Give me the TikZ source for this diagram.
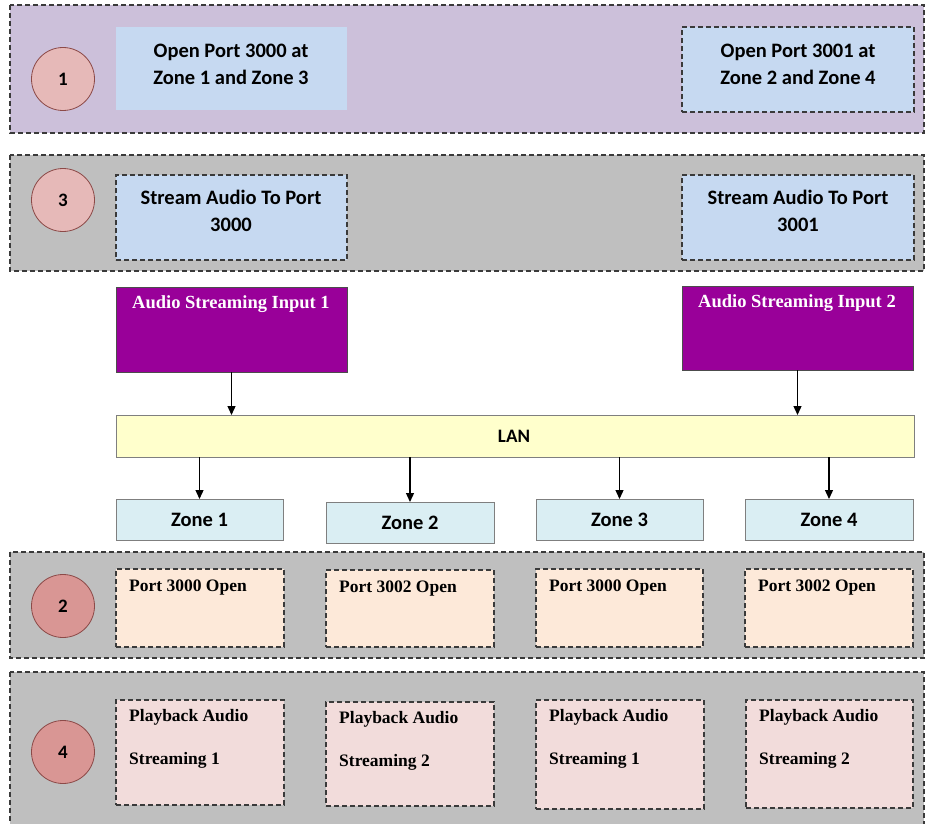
\documentclass[tikz,border=0pt]{standalone}
\usepackage{fontspec}
\setmainfont{Liberation Serif}
\newfontfamily\calfont{Carlito}
\usetikzlibrary{arrows.meta}
\definecolor{lavband}{HTML}{CCC0DA}
\definecolor{grayband}{HTML}{BFBFBF}
\definecolor{dashgray}{HTML}{3A3A3A}
\definecolor{circA}{HTML}{E6B9B8}
\definecolor{circB}{HTML}{D99694}
\definecolor{circline}{HTML}{8C4A48}
\definecolor{openblue}{HTML}{C6D9F1}
\definecolor{inpurple}{HTML}{990099}
\definecolor{lanyellow}{HTML}{FFFFCC}
\definecolor{zonecyan}{HTML}{DAEEF3}
\definecolor{portpeach}{HTML}{FDE9D9}
\definecolor{playpink}{HTML}{F2DCDB}
\definecolor{boxline}{HTML}{7F7F7F}
\begin{document}
\begin{tikzpicture}[x=1pt,y=-1pt,
  band/.style={draw=dashgray, line width=1.3pt, dash pattern=on 5pt off 3pt},
  dbox/.style={draw=dashgray, line width=1.3pt, dash pattern=on 5pt off 3pt, inner sep=0pt, outer sep=0pt, anchor=north west},
  sbox/.style={draw=boxline, line width=0.9pt, inner sep=0pt, outer sep=0pt, anchor=north west},
  numc/.style={circle, draw=circline, line width=0.8pt, minimum size=63pt, inner sep=0pt, font=\calfont\bfseries\fontsize{19}{21}\selectfont},
  calt/.style={font=\calfont\bfseries\fontsize{20.5}{27}\selectfont, align=center, inner sep=0pt},
  sert/.style={font=\bfseries\fontsize{17.5}{21}\selectfont, inner sep=0pt, anchor=west},
  playt/.style={font=\bfseries\fontsize{17.5}{43}\selectfont, inner sep=0pt, align=left, anchor=north west},
  arr/.style={line width=1.3pt, -{Triangle[length=9pt,width=8pt]}}
]
\path[use as bounding box, clip] (0,0) rectangle (926,824);
\fill[white] (0,0) rectangle (926,824);

% ---------- band 1 ----------
\filldraw[band, fill=lavband] (10,5) rectangle (924,133);
\node[numc, fill=circA] (c1) at (63,79) {1};
\node[sbox, draw=none, fill=openblue, minimum width=231pt, minimum height=83pt] (op1) at (116,27) {};
\node[calt] (op1t) at (231,64) {Open Port 3000 at\\Zone 1 and Zone 3};
\node[dbox, fill=openblue, minimum width=232pt, minimum height=85pt] (op2) at (682,27) {};
\node[calt] (op2t) at (798,64) {Open Port 3001 at\\Zone 2 and Zone 4};

% ---------- band 3 ----------
\filldraw[band, fill=grayband] (10,155) rectangle (924,271);
\node[numc, fill=circA] (c3) at (63,200) {3};
\node[dbox, fill=openblue, minimum width=231pt, minimum height=85pt] (st1) at (116,175) {};
\node[calt] (st1t) at (231,211) {Stream Audio To Port\\3000};
\node[dbox, fill=openblue, minimum width=232pt, minimum height=85pt] (st2) at (682,175) {};
\node[calt] (st2t) at (798,211) {Stream Audio To Port\\3001};

% ---------- inputs ----------
\node[sbox, draw=black!70, fill=inpurple, minimum width=231pt, minimum height=85pt] (in1) at (116,287) {};
\node[font=\bfseries\fontsize{18.5}{21}\selectfont, text=white, inner sep=0pt] (in1t) at (231,304) {Audio Streaming Input 1};
\node[sbox, draw=black!70, fill=inpurple, minimum width=231pt, minimum height=84pt] (in2) at (682,286) {};
\node[font=\bfseries\fontsize{18.5}{21}\selectfont, text=white, inner sep=0pt] (in2t) at (797,303) {Audio Streaming Input 2};

% ---------- LAN ----------
\node[sbox, fill=lanyellow, minimum width=798pt, minimum height=42pt] (lan) at (116,415) {};
\node[calt, font=\calfont\bfseries\fontsize{19}{22}\selectfont] (lant) at (514,436) {LAN};

% ---------- zones ----------
\node[sbox, fill=zonecyan, minimum width=167pt, minimum height=41pt] (z1) at (116,499) {};
\node[sbox, fill=zonecyan, minimum width=168pt, minimum height=41pt] (z2) at (326,502) {};
\node[sbox, fill=zonecyan, minimum width=167pt, minimum height=41pt] (z3) at (536,499) {};
\node[sbox, fill=zonecyan, minimum width=168pt, minimum height=41pt] (z4) at (745,499) {};
\node[calt] (z1t) at (z1.center) {Zone 1};
\node[calt] (z2t) at (z2.center) {Zone 2};
\node[calt] (z3t) at (z3.center) {Zone 3};
\node[calt] (z4t) at (z4.center) {Zone 4};

% ---------- arrows ----------
\draw[arr] (in1.south) -- (in1.south |- lan.north);
\draw[arr] (in2.south) -- (in2.south |- lan.north);
\draw[arr] (lan.south -| z1.north) -- (z1.north);
\draw[arr] (lan.south -| z2.north) -- (z2.north);
\draw[arr] (lan.south -| z3.north) -- (z3.north);
\draw[arr] (lan.south -| z4.north) -- (z4.north);

% ---------- band 2 ----------
\filldraw[band, fill=grayband] (10,552) rectangle (924,658);
\node[numc, fill=circB] (c2) at (63,606) {2};
\node[dbox, fill=portpeach, minimum width=168pt, minimum height=78pt] (p1) at (116,569) {};
\node[dbox, fill=portpeach, minimum width=168pt, minimum height=77pt] (p2) at (326,570) {};
\node[dbox, fill=portpeach, minimum width=167pt, minimum height=78pt] (p3) at (536,569) {};
\node[dbox, fill=portpeach, minimum width=168pt, minimum height=78pt] (p4) at (745,569) {};
\node[sert] (p1t) at (129,588) {Port 3000 Open};
\node[sert] (p2t) at (339,589) {Port 3002 Open};
\node[sert] (p3t) at (549,588) {Port 3000 Open};
\node[sert] (p4t) at (758,588) {Port 3002 Open};

% ---------- band 4 ----------
\filldraw[band, fill=grayband] (10,672) rectangle (924,840);
\node[numc, fill=circB] (c4) at (63,752) {4};
\node[dbox, fill=playpink, minimum width=168pt, minimum height=105pt] (b1) at (116,700) {};
\node[dbox, fill=playpink, minimum width=168pt, minimum height=104pt] (b2) at (326,702) {};
\node[dbox, fill=playpink, minimum width=168pt, minimum height=109pt] (b3) at (536,700) {};
\node[dbox, fill=playpink, minimum width=167pt, minimum height=108pt] (b4) at (746,700) {};
\node[playt] (b1t) at (129,709) {Playback Audio\\Streaming 1};
\node[playt] (b2t) at (339,711) {Playback Audio\\Streaming 2};
\node[playt] (b3t) at (549,709) {Playback Audio\\Streaming 1};
\node[playt] (b4t) at (759,709) {Playback Audio\\Streaming 2};
\end{tikzpicture}
\end{document}
